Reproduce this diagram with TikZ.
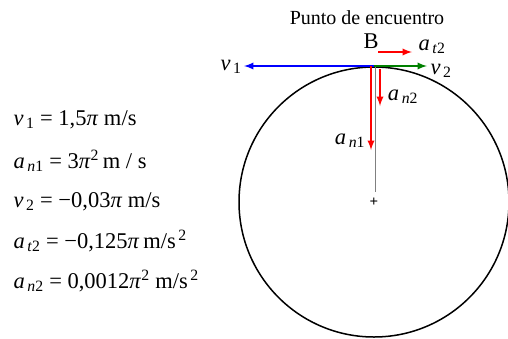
\documentclass[tikz,border=0pt]{standalone}
\usepackage{fontspec}
\setmainfont{Liberation Serif}
\usetikzlibrary{arrows}

\newcommand{\magn}[3]{\textit{#1}\textsubscript{\,\textit{#2}#3}}
\tikzset{
 vec/.style={->,line width=2.2pt},
 dato/.style={anchor=base west,font=\fontsize{22.5}{26}\selectfont},
 etiq/.style={font=\fontsize{22.5}{26}\selectfont,inner sep=0pt}
}

\begin{document}
\begin{tikzpicture}[x=1pt,y=-1pt,>=latex]
 \useasboundingbox (0,0) rectangle (508,338);
 % circunferencia y centro
 \coordinate (O) at (374,202);
 \draw[line width=1.5pt] (O) circle (135);
 \node[inner sep=0pt,font=\fontsize{15}{16}\selectfont\bfseries] (cruz) at (O) {+};
 \coordinate (B) at (374,66);
 \coordinate (Bc) at (375,66);
 \coordinate (Bn) at (371,66);
 \coordinate (Bf) at (375,192);
 \draw[gray,line width=1pt] (Bc) -- (Bf);
 % vectores en B
 \coordinate (v1f) at (244,66);
 \coordinate (v2f) at (427,66);
 \draw[vec,blue] (B) -- (v1f);
 \draw[vec,green!50!black] (B) -- (v2f);
 \coordinate (at0) at (378,52);
 \coordinate (at1) at (412,52);
 \draw[vec,red] (at0) -- (at1);
 \coordinate (an0) at (380,69);
 \coordinate (an1) at (380,106);
 \draw[vec,red] (an0) -- (an1);
 \coordinate (aN1) at (371,150);
 \draw[vec,red] (Bn) -- (aN1);
 % etiquetas
 \node[etiq] (lv1) at (231,67) {\magn{v}{}{1}};
 \node[etiq] (lv2) at (441,71) {\magn{v}{}{2}};
 \node[etiq] (lat2) at (432,47) {\magn{a}{t}{2}};
 \node[etiq] (lan2) at (403,97) {\magn{a}{n}{2}};
 \node[etiq] (lan1) at (350,141) {\magn{a}{n}{1}};
 \node[etiq] (Blab) at (371,41) {B};
 \node[font=\fontsize{20}{24}\selectfont] (tit) at (367,18) {Punto de encuentro};
 % datos
 \node[dato] (d1) at (10,125) {\magn{v}{}{1} = 1,5\textit{π} m/s};
 \node[dato] (d2) at (10,168) {\magn{a}{n}{1} = 3\textit{π}\textsuperscript{2}\,m / s};
 \node[dato] (d3) at (10,207) {\magn{v}{}{2} = −0,03\textit{π} m/s};
 \node[dato] (d4) at (10,248) {\magn{a}{t}{2} = −0,125\textit{π}\,m/s\textsuperscript{\,2}};
 \node[dato] (d5) at (10,288) {\magn{a}{n}{2} = 0,0012\textit{π}\textsuperscript{2} m/s\textsuperscript{\,2}};
\end{tikzpicture}
\end{document}
